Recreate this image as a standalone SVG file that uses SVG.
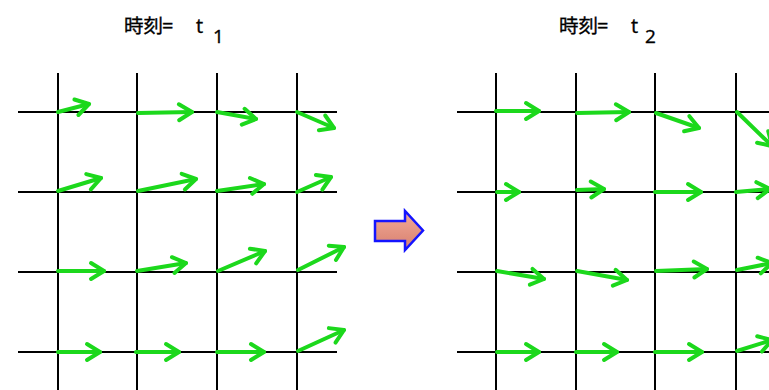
<svg xmlns="http://www.w3.org/2000/svg" width="769" height="390" viewBox="0 0 769 390">
<style>
.grid{stroke:#000;stroke-width:2;fill:none}
.vec{stroke:#1cd81c;stroke-width:4;fill:none;stroke-linecap:round;marker-end:url(#head)}
.title{font-family:"Open Sans","Noto Sans CJK JP",sans-serif;fill:#000;stroke:#000;stroke-width:0.35}
</style>
<defs>
<marker id="head" markerUnits="userSpaceOnUse" viewBox="-18 -12 22 24" markerWidth="22" markerHeight="24" refX="0" refY="0" orient="auto" overflow="visible">
<path d="M-13,-8 L0,0 L-13,8" fill="none" stroke="#1cd81c" stroke-width="4" stroke-linecap="round" stroke-linejoin="round"/>
</marker>
<linearGradient id="blk" x1="0" y1="0" x2="0" y2="1">
<stop offset="0" stop-color="#f2aa98"/>
<stop offset="1" stop-color="#d7806e"/>
</linearGradient>
</defs>
<rect width="769" height="390" fill="#fff"/>

<g id="title-t1">
<text class="title" x="124" y="33" font-size="19.5">時刻<tspan x="162" font-size="20">=</tspan><tspan x="196" font-size="20">t</tspan><tspan x="213" y="43" font-size="19">1</tspan></text>
</g>
<g id="title-t2">
<text class="title" x="559" y="33" font-size="19.5">時刻<tspan x="597" font-size="20">=</tspan><tspan x="631" font-size="20">t</tspan><tspan x="645" y="43" font-size="19">2</tspan></text>
</g>

<g id="grid-t1" class="grid">
<path d="M18,112H337M18,192H337M18,272H337M18,352H337"/>
<path d="M58,73V390M137,73V390M217,73V390M297,73V390"/>
</g>
<g id="grid-t2" class="grid">
<path d="M457,112H769M457,192H769M457,272H769M457,352H769"/>
<path d="M496,73V390M576,73V390M655,73V390M736,73V390"/>
</g>

<g id="connectors">
<g id="vectors-t1">
<line class="vec" x1="58" y1="112" x2="89" y2="104"/>
<line class="vec" x1="138" y1="113" x2="192" y2="112"/>
<line class="vec" x1="217" y1="112" x2="256" y2="119"/>
<line class="vec" x1="297" y1="112" x2="334" y2="128"/>
<line class="vec" x1="58" y1="191" x2="101" y2="178"/>
<line class="vec" x1="138" y1="191" x2="196" y2="179"/>
<line class="vec" x1="217" y1="191" x2="264" y2="184"/>
<line class="vec" x1="297" y1="192" x2="331" y2="177"/>
<line class="vec" x1="58" y1="271" x2="104" y2="271"/>
<line class="vec" x1="137" y1="271" x2="186" y2="263"/>
<line class="vec" x1="218" y1="271" x2="265" y2="251"/>
<line class="vec" x1="298" y1="270" x2="344" y2="247"/>
<line class="vec" x1="58" y1="352" x2="100" y2="352"/>
<line class="vec" x1="136" y1="352" x2="179" y2="352"/>
<line class="vec" x1="217" y1="352" x2="264" y2="352"/>
<line class="vec" x1="298" y1="351" x2="344" y2="330"/>
</g>
<g id="vectors-t2">
<line class="vec" x1="496" y1="111" x2="539" y2="111"/>
<line class="vec" x1="577" y1="113" x2="629" y2="112"/>
<line class="vec" x1="656" y1="113" x2="699" y2="128"/>
<line class="vec" x1="737" y1="112" x2="772" y2="146"/>
<line class="vec" x1="497" y1="192" x2="519" y2="192"/>
<line class="vec" x1="577" y1="190" x2="604" y2="189"/>
<line class="vec" x1="655" y1="192" x2="701" y2="192"/>
<line class="vec" x1="736" y1="192" x2="770" y2="189"/>
<line class="vec" x1="497" y1="271" x2="544" y2="279"/>
<line class="vec" x1="577" y1="271" x2="627" y2="280"/>
<line class="vec" x1="656" y1="271" x2="707" y2="269"/>
<line class="vec" x1="737" y1="270" x2="772" y2="263"/>
<line class="vec" x1="497" y1="352" x2="539" y2="352"/>
<line class="vec" x1="576" y1="352" x2="617" y2="352"/>
<line class="vec" x1="655" y1="352" x2="702" y2="352"/>
<line class="vec" x1="737" y1="351" x2="772" y2="340"/>
</g>
</g>

<g id="transition-arrow">
<path d="M375,221 L405,221 L405,211 L423,230.5 L405,250 L405,241 L375,241 Z" fill="url(#blk)" stroke="#1414ff" stroke-width="2.5" stroke-linejoin="miter"/>
</g>
</svg>
